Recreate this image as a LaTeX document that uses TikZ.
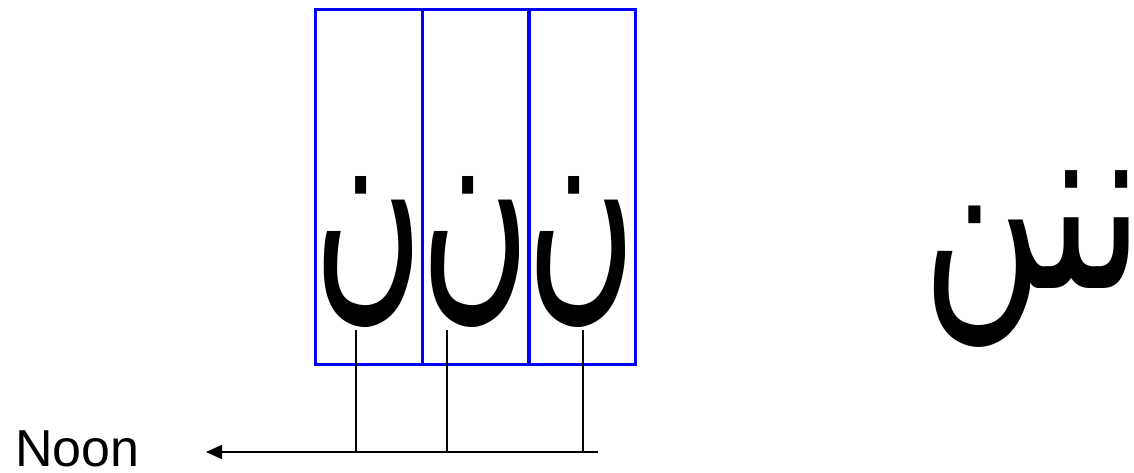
\documentclass[tikz,border=0pt]{standalone}
\usepackage{fontspec}
\setmainfont{Liberation Sans}
\newfontfamily\arabicfont[Script=Arabic]{DejaVu Sans}
\TeXXeTstate=1
\usetikzlibrary{arrows.meta}
\tikzset{
  cell/.style={draw=blue, line width=3pt, minimum width=107pt, minimum height=355pt,
    inner sep=0pt, outer sep=0pt, anchor=north west},
  glyph/.style={inner sep=0pt, outer sep=0pt, transform shape, xscale=1, yscale=1.61,
    font=\arabicfont\fontsize{150}{150}\selectfont},
  link/.style={draw=black, line width=1.5pt},
  label/.style={inner sep=0pt, text depth=0pt, font=\fontsize{52}{52}\selectfont, anchor=base west}
}
\begin{document}
\begin{tikzpicture}[x=1pt,y=-1pt]
\useasboundingbox (0,0) rectangle (1134,472);
\clip (0,0) rectangle (1134,472);
\node[cell] (c1) at (315,9) {};
\node[cell] (c2) at (422,9) {};
\node[cell] (c3) at (528,9) {};
\node[glyph, anchor=base] (n1) at (369,288) {\beginR ن\endR};
\node[glyph, anchor=base] (n2) at (476,288) {\beginR ن\endR};
\node[glyph, anchor=base] (n3) at (582,288) {\beginR ن\endR};
\node[glyph, xscale=1.1, anchor=base west] (w) at (922,288) {\beginR ننن\endR};
\node[label] (noon) at (15,466) {Noon};
\coordinate (t1) at (356,330);
\coordinate (t2) at (447,330);
\coordinate (t3) at (583,330);
\coordinate (j1) at (356,452);
\coordinate (j2) at (447,452);
\coordinate (j3) at (583,452);
\coordinate (e) at (598,452);
\coordinate (tip) at (206,452);
\draw[link] (t1) -- (j1);
\draw[link] (t2) -- (j2);
\draw[link] (t3) -- (j3);
\draw[link, -{Stealth[length=16pt,width=14pt,inset=0pt]}] (e) -- (tip);
\end{tikzpicture}
\end{document}
